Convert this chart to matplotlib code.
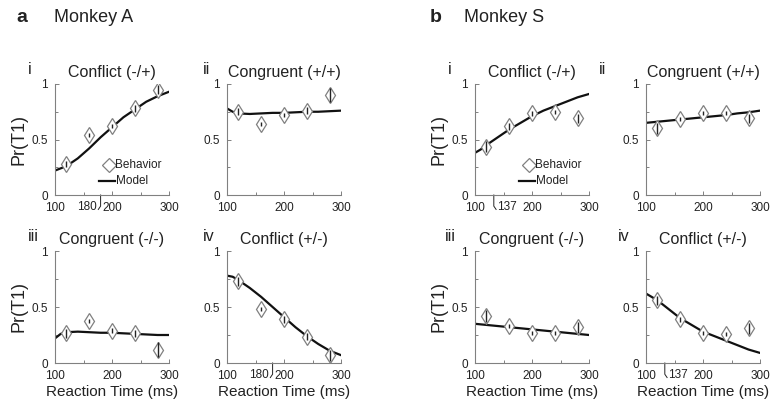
import matplotlib.pyplot as plt
from matplotlib.ticker import MultipleLocator

plt.rcParams['font.family'] = ['Liberation Sans', 'DejaVu Sans']

rt = [120, 160, 200, 240, 280]
model_rt = [100, 110, 120, 140, 160, 180, 200, 220, 240, 260, 280, 300]

titles = ["Conflict (-/+)", "Congruent (+/+)", "Congruent (-/-)", "Conflict (+/-)"]
numerals = ["i", "ii", "iii", "iv"]

# Monkey A
a_beh = [
    [0.28, 0.54, 0.62, 0.78, 0.95],
    [0.75, 0.64, 0.72, 0.76, 0.90],
    [0.265, 0.375, 0.29, 0.265, 0.12],
    [0.73, 0.48, 0.39, 0.235, 0.07],
]
a_err = [
    [0.03, 0.02, 0.02, 0.03, 0.04],
    [0.03, 0.02, 0.02, 0.03, 0.06],
    [0.04, 0.02, 0.02, 0.03, 0.07],
    [0.04, 0.02, 0.03, 0.03, 0.05],
]
a_model = [
    [0.22, 0.24, 0.26, 0.33, 0.42, 0.52, 0.61, 0.70, 0.77, 0.84, 0.89, 0.93],
    [0.78, 0.75, 0.735, 0.73, 0.735, 0.74, 0.74, 0.745, 0.75, 0.75, 0.755, 0.76],
    [0.22, 0.26, 0.275, 0.28, 0.275, 0.27, 0.27, 0.265, 0.26, 0.255, 0.25, 0.25],
    [0.78, 0.77, 0.74, 0.67, 0.59, 0.50, 0.41, 0.32, 0.24, 0.17, 0.11, 0.07],
]
a_mark = 180

# Monkey S
s_beh = [
    [0.435, 0.62, 0.735, 0.75, 0.69],
    [0.60, 0.685, 0.74, 0.74, 0.69],
    [0.42, 0.33, 0.27, 0.27, 0.32],
    [0.56, 0.39, 0.27, 0.26, 0.31],
]
s_err = [
    [0.05, 0.03, 0.02, 0.02, 0.04],
    [0.05, 0.02, 0.02, 0.02, 0.04],
    [0.05, 0.02, 0.02, 0.02, 0.05],
    [0.04, 0.02, 0.02, 0.02, 0.05],
]
s_model = [
    [0.38, 0.41, 0.45, 0.52, 0.59, 0.65, 0.71, 0.76, 0.80, 0.84, 0.88, 0.91],
    [0.65, 0.655, 0.66, 0.67, 0.68, 0.69, 0.70, 0.71, 0.72, 0.735, 0.745, 0.76],
    [0.35, 0.345, 0.34, 0.33, 0.32, 0.31, 0.30, 0.29, 0.28, 0.27, 0.26, 0.25],
    [0.62, 0.59, 0.56, 0.48, 0.40, 0.34, 0.28, 0.24, 0.20, 0.16, 0.12, 0.09],
]
s_mark = 137

W, H = 771, 407
fig = plt.figure(figsize=(W / 100, H / 100), dpi=100)

gray = '#808080'
txt = '#222222'


def px_axes(left, top, w, h):
    return fig.add_axes([left / W, 1 - (top + h) / H, w / W, h / H])


def draw_panel(ax, beh, err, model, title, num, num_x, ylabel, xlabel, mark=None, legend=False, side='left'):
    ax.plot(model_rt, model, color='#111111', lw=1.6, zorder=2)
    ax.plot(rt, beh, 'd', ms=8, mfc='white', mec=gray, mew=0.9, zorder=3)
    # error bars drawn on top of the diamonds
    ax.errorbar(rt, beh, yerr=err, fmt='none', ecolor='#222222', elinewidth=1.0, capsize=0, zorder=4)
    ax.set_xlim(100, 300)
    ax.set_ylim(0, 1)
    for s in ['top', 'right']:
        ax.spines[s].set_visible(False)
    for s in ['left', 'bottom']:
        ax.spines[s].set_color(gray)
        ax.spines[s].set_linewidth(0.8)
    ax.set_xticks([100, 200, 300])
    ax.set_yticks([0, 0.5, 1])
    ax.set_yticklabels(['0', '0.5', '1'])
    ax.xaxis.set_minor_locator(MultipleLocator(50))
    ax.yaxis.set_minor_locator(MultipleLocator(0.25))
    ax.tick_params(which='both', direction='in', color=gray, width=0.7, labelsize=8.5,
                   labelcolor=txt)
    ax.tick_params(axis='x', pad=5)
    ax.tick_params(axis='y', pad=5)
    ax.tick_params(which='major', length=3)
    ax.tick_params(which='minor', length=2)
    ax.set_title(title, fontsize=11.5, color=txt, pad=5)
    ax.text(num_x, 1.13, num, transform=ax.transAxes, fontsize=11.5, color=txt, ha='left', va='center')
    if ylabel:
        ax.set_ylabel('Pr(T1)', fontsize=13, color=txt, labelpad=3)
    if xlabel:
        ax.set_xlabel('Reaction Time (ms)', fontsize=11, color=txt, labelpad=2)
    if mark is not None:
        if side == 'left':
            ax.plot([mark, mark, mark - 4], [0, -0.1, -0.13], color='#222222', lw=0.7, clip_on=False)
            ax.text(mark - 7, -0.05, str(mark), fontsize=8.5, color=txt, ha='right', va='top')
        else:
            ax.plot([mark - 4, mark - 4, mark], [0, -0.1, -0.13], color='#222222', lw=0.7, clip_on=False)
            ax.text(mark + 2, -0.05, str(mark), fontsize=8.5, color=txt, ha='left', va='top')
    if legend:
        ax.plot([0.47], [0.27], 'D', ms=7, mfc='white', mec=gray, mew=0.9, transform=ax.transAxes, clip_on=False)
        ax.text(0.53, 0.27, 'Behavior', transform=ax.transAxes, fontsize=8.5, color=txt, va='center')
        ax.plot([0.39, 0.53], [0.125, 0.125], color='#111111', lw=1.6, transform=ax.transAxes)
        ax.text(0.535, 0.125, 'Model', transform=ax.transAxes, fontsize=8.5, color=txt, va='center')


aw, ah = 114, 111
rows_top = [84, 251]
a_left = [55, 227]
s_left = [475, 646]

for k in range(4):
    r, c = divmod(k, 2)
    ax = px_axes(a_left[c], rows_top[r], aw, ah + (1 if r else 0))
    draw_panel(ax, a_beh[k], a_err[k], a_model[k], titles[k], numerals[k],
               -0.24 if c == 0 else -0.21, ylabel=(c == 0), xlabel=(r == 1),
               mark=a_mark if k in (0, 3) else None, legend=(k == 0), side='left')

s_num_x = [-0.24, -0.41, -0.26, -0.25]
for k in range(4):
    r, c = divmod(k, 2)
    ax = px_axes(s_left[c], rows_top[r], aw, ah + (1 if r else 0))
    draw_panel(ax, s_beh[k], s_err[k], s_model[k], titles[k], numerals[k],
               s_num_x[k], ylabel=(c == 0), xlabel=(r == 1),
               mark=s_mark if k in (0, 3) else None, legend=(k == 0), side='right')

fig.text(16 / W, 1 - 18 / H, 'a', fontsize=14, fontweight='bold', color=txt, va='center')
fig.text(54 / W, 1 - 18 / H, 'Monkey A', fontsize=13, color=txt, va='center')
fig.text(430 / W, 1 - 18 / H, 'b', fontsize=14, fontweight='bold', color=txt, va='center')
fig.text(464 / W, 1 - 18 / H, 'Monkey S', fontsize=13, color=txt, va='center')

fig.savefig('out.png', dpi=100)
